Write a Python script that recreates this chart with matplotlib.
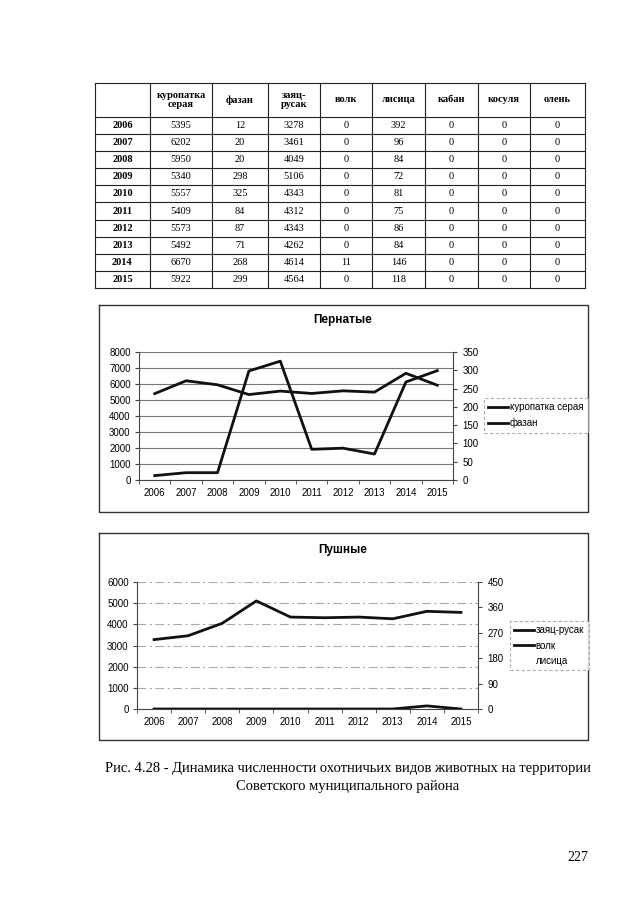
import numpy as np
from matplotlib import pyplot as plt

years = [2006, 2007, 2008, 2009, 2010, 2011, 2012, 2013, 2014, 2015]
kuropatka = [5395, 6202, 5950, 5340, 5557, 5409, 5573, 5492, 6670, 5922]
fazan = [12, 20, 20, 298, 325, 84, 87, 71, 268, 299]
zayac = [3278, 3461, 4049, 5106, 4343, 4312, 4343, 4262, 4614, 4564]
volk = [0, 0, 0, 0, 0, 0, 0, 0, 11, 0]
lisica = [392, 96, 84, 72, 81, 75, 86, 84, 146, 118]
kaban = [0, 0, 0, 0, 0, 0, 0, 0, 0, 0]
kosulya = [0, 0, 0, 0, 0, 0, 0, 0, 0, 0]
olen = [0, 0, 0, 0, 0, 0, 0, 0, 0, 0]

headers = ['куропатка\nсерая', 'фазан', 'заяц-\nрусак', 'волк', 'лисица', 'кабан', 'косуля', 'олень']
columns = [kuropatka, fazan, zayac, volk, lisica, kaban, kosulya, olen]

caption1 = 'Рис. 4.28 - Динамика численности охотничьих видов животных на территории'
caption2 = 'Советского муниципального района'

W, H = 640, 905
sans = 'Liberation Sans'
serif = 'Liberation Serif'

fig = plt.figure(figsize=(6.4, 9.05), dpi=100)
page = fig.add_axes([0, 0, 1, 1])
page.set_xlim(0, W)
page.set_ylim(H, 0)
page.axis('off')

# ---- table ----
col_x = [95, 150, 212, 268, 320, 372, 425, 478, 530, 585]
top, head_h, row_h = 83, 34, 17.1
row_y = [top, top + head_h] + [top + head_h + row_h * (i + 1) for i in range(len(years))]
for y in row_y:
    page.plot([col_x[0], col_x[-1]], [y, y], color='#222', lw=0.8)
for x in col_x:
    page.plot([x, x], [row_y[0], row_y[-1]], color='#222', lw=0.8)

for j, h in enumerate(headers):
    cx = (col_x[j + 1] + col_x[j + 2]) / 2
    page.text(cx, top + head_h / 2, h, ha='center', va='center', family=serif,
              fontsize=7.5, weight='bold', linespacing=1.1)
for i, yr in enumerate(years):
    cy = top + head_h + row_h * (i + 0.5)
    page.text((col_x[0] + col_x[1]) / 2, cy, str(yr), ha='center', va='center',
              family=serif, fontsize=7.5, weight='bold')
    for j, col in enumerate(columns):
        cx = (col_x[j + 1] + col_x[j + 2]) / 2
        page.text(cx, cy, str(col[i]), ha='center', va='center', family=serif, fontsize=7.5)

# ---- chart frames ----
for (t, b) in [(305, 512), (533, 740)]:
    page.plot([99, 588, 588, 99, 99], [t, t, b, b, t], color='#333', lw=1)


def px_axes(l, t, r, b):
    return fig.add_axes([l / W, 1 - b / H, (r - l) / W, (b - t) / H])


def style_axes(ax, ax2, ymax, ystep, y2max, y2step, grid_ls, grid_c):
    x = np.arange(len(years))
    ax.set_xlim(-0.5, len(years) - 0.5)
    ax.set_xticks(x)
    ax.set_xticklabels([str(y) for y in years], family=sans, fontsize=7)
    ax.set_xticks(np.arange(len(years) + 1) - 0.5, minor=True)
    ax.tick_params(axis='x', which='major', length=0, pad=6)
    ax.tick_params(axis='x', which='minor', length=3, color='#444')
    ax.set_ylim(0, ymax)
    ax.set_yticks(np.arange(0, ymax + 1, ystep))
    ax.tick_params(axis='y', length=3, pad=3, color='#444', labelsize=7)
    for lab in ax.get_yticklabels():
        lab.set_family(sans)
    ax.yaxis.grid(True, color=grid_c, lw=0.8, linestyle=grid_ls)
    ax.set_axisbelow(True)
    ax.spines['top'].set_visible(False)
    ax.spines['right'].set_visible(False)
    ax.spines['left'].set_color('#444')
    ax.spines['bottom'].set_color('#444')
    ax.patch.set_alpha(0)
    ax2.set_ylim(0, y2max)
    ax2.set_yticks(np.arange(0, y2max + 1, y2step))
    ax2.tick_params(axis='y', length=3, pad=4, color='#444', labelsize=7)
    for lab in ax2.get_yticklabels():
        lab.set_family(sans)
    for s in ['top', 'left', 'bottom']:
        ax2.spines[s].set_visible(False)
    ax2.spines['right'].set_color('#444')


def legend(ax, handles, l, t):
    leg = ax.legend(handles, [h.get_label() for h in handles], loc='upper left',
                    bbox_to_anchor=(l / W, 1 - t / H), bbox_transform=fig.transFigure,
                    prop={'family': sans, 'size': 7}, handlelength=2.0, handletextpad=0.2,
                    labelspacing=0.55, borderpad=0.45, borderaxespad=0, fancybox=False)
    fr = leg.get_frame()
    fr.set_edgecolor('#999')
    fr.set_linestyle((0, (3, 2)))
    fr.set_linewidth(0.8)


x = np.arange(len(years))

# ---- chart 1: Пернатые ----
page.text(343, 320, 'Пернатые', ha='center', va='center', family=sans, fontsize=8.5, weight='bold')
ax1 = px_axes(139, 352, 453, 480)
ax1b = ax1.twinx()
style_axes(ax1, ax1b, 8000, 1000, 350, 50, '-', '#777')
l1, = ax1.plot(x, kuropatka, color='#111', lw=2, label='куропатка серая')
l2, = ax1b.plot(x, fazan, color='#111', lw=2, label='фазан')
legend(ax1b, [l1, l2], 484, 398)

# ---- chart 2: Пушные ----
page.text(343, 550, 'Пушные', ha='center', va='center', family=sans, fontsize=8.5, weight='bold')
ax2 = px_axes(137, 582, 478, 709)
ax2b = ax2.twinx()
style_axes(ax2, ax2b, 6000, 1000, 450, 90, (0, (8, 3, 2, 3)), '#aaa')
m1, = ax2.plot(x, zayac, color='#111', lw=2, label='заяц-русак')
m2, = ax2b.plot(x, volk, color='#111', lw=2, label='волк')
m3, = ax2b.plot(x, lisica, linestyle='none', label='лисица')
legend(ax2b, [m1, m2, m3], 510, 621)

# ---- caption and page number ----
page.text(348, 768, caption1, ha='center', va='center', family=serif, fontsize=10.5)
page.text(348, 786, caption2, ha='center', va='center', family=serif, fontsize=10.5)
page.text(578, 857, '227', ha='center', va='center', family=serif, fontsize=10)

plt.savefig('out.png', dpi=100)
